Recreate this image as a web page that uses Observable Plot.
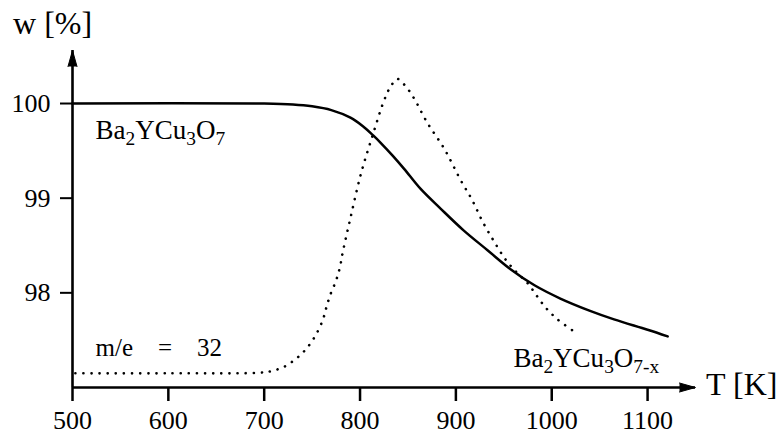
<!DOCTYPE html>
<html><head><meta charset="utf-8">
<script src="https://cdn.jsdelivr.net/npm/d3@7"></script>
<script src="https://cdn.jsdelivr.net/npm/@observablehq/plot@0.6"></script>
<style>
body{margin:0;background:#fff;}
svg{background:#fff;}
svg text{font-family:"Liberation Serif","DejaVu Serif","Noto Serif","Times New Roman",serif !important;}
</style></head><body><div id="chart"></div>
<script>
// Weight curve (solid) – T [K] and w [%]
const tempSolid = [500, 700, 730, 750, 770, 790, 803, 814, 822, 834, 846, 863, 884, 908, 933, 957, 982, 1009, 1040, 1065, 1100, 1121];
const wSolid    = [100.0, 100.0, 99.99, 99.97, 99.93, 99.85, 99.76, 99.66, 99.58, 99.45, 99.31, 99.10, 98.89, 98.66, 98.45, 98.25, 98.08, 97.94, 97.81, 97.72, 97.61, 97.54];
// m/e = 32 signal (dotted), drawn in the same frame
const tempDotted = [503, 600, 700, 710, 721, 734, 744, 753, 761, 765, 769, 775, 779, 782, 790, 801, 814, 825, 832, 839, 847, 856, 870, 888, 905, 917, 928, 940, 952, 963, 975, 985, 994, 1006, 1025];
const wDotted    = [97.15, 97.15, 97.16, 97.18, 97.22, 97.31, 97.41, 97.54, 97.71, 97.85, 97.98, 98.13, 98.27, 98.43, 98.79, 99.26, 99.69, 100.03, 100.18, 100.26, 100.19, 100.06, 99.80, 99.52, 99.19, 98.98, 98.75, 98.54, 98.35, 98.22, 98.10, 97.96, 97.84, 97.72, 97.58];
// Axes
const xTicks = [500, 600, 700, 800, 900, 1000, 1100];
const yTicks = [98, 99, 100];
const xDomain = [500, 1150];
const yDomain = [97.0, 100.56];
// Labels (text, T, w, size)
const labelText = ["w [%]", "T [K]", "Ba_2YCu_3O_7", "Ba_2YCu_3O_{7-x}", "m/e\u2003=\u200332"];
const labelT    = [438, 1161, 524, 960, 524];
const labelW    = [100.73, 96.92, 99.63, 97.22, 97.33];
const labelSize = [32, 32, 27, 27, 25];

const FONT = "'Liberation Serif', 'DejaVu Serif', 'Noto Serif', 'Times New Roman', serif";
const solid = tempSolid.map((t, i) => ({t, w: wSolid[i]}));
const dotted = tempDotted.map((t, i) => ({t, w: wDotted[i]}));
const labels = labelText.map((s, i) => ({s, t: labelT[i], w: labelW[i], size: labelSize[i]}));
const arrows = [{t: xDomain[1], w: yDomain[0], r: 90}, {t: xDomain[0], w: yDomain[1], r: 0}];

const chart = Plot.plot({
  width: 780, height: 436,
  marginLeft: 72, marginRight: 85, marginTop: 50, marginBottom: 49,
  style: {fontFamily: FONT, color: "black", background: "white"},
  x: {domain: xDomain, label: null},
  y: {domain: yDomain, label: null},
  marks: [
    Plot.axisX({ticks: xTicks, tickSize: 14, tickPadding: 9, fontSize: 26, fontFamily: FONT, strokeWidth: 2.5, tickFormat: d => String(d), label: null}),
    Plot.axisY({ticks: yTicks, tickSize: 12, tickPadding: 10, fontSize: 26, fontFamily: FONT, strokeWidth: 2, tickFormat: d => String(d), label: null}),
    Plot.ruleY([yDomain[0]], {x1: xDomain[0], x2: xDomain[1], strokeWidth: 2.6}),
    Plot.ruleX([xDomain[0]], {y1: yDomain[0], y2: yDomain[1], strokeWidth: 2.6}),
    Plot.vector(arrows, {x: "t", y: "w", rotate: "r", length: 16, r: 4.5, shape: "spike", anchor: "end", fill: "black", fillOpacity: 1, stroke: "black", strokeWidth: 1}),
    Plot.line(dotted, {x: "t", y: "w", curve: "catmull-rom", stroke: "black", strokeWidth: 2.6, strokeDasharray: "0.1 8", strokeLinecap: "round"}),
    Plot.line(solid, {x: "t", y: "w", curve: "catmull-rom", stroke: "black", strokeWidth: 2.5}),
    Plot.text(labels, {x: "t", y: "w", text: "s", fontSize: "size", fontFamily: FONT, textAnchor: "start", lineAnchor: "bottom", fill: "black", className: "lbl"})
  ]
});

// Render subscripts with tspans
d3.select(chart).selectAll("g.lbl text").each(function() {
  const el = d3.select(this);
  const s = el.text();
  if (!s.includes("_")) return;
  el.text(null);
  const parts = s.split(/_(\{[^}]*\}|.)/);
  parts.forEach((p, i) => {
    if (p === "") return;
    if (i % 2 === 1) {
      el.append("tspan").attr("font-size", "0.72em").attr("dy", "6").text(p.replace(/[{}]/g, ""));
    } else {
      const ts = el.append("tspan").text(p);
      if (i > 0) ts.attr("dy", "-6");
    }
  });
});

document.getElementById("chart").appendChild(chart);
</script>
</body></html>
